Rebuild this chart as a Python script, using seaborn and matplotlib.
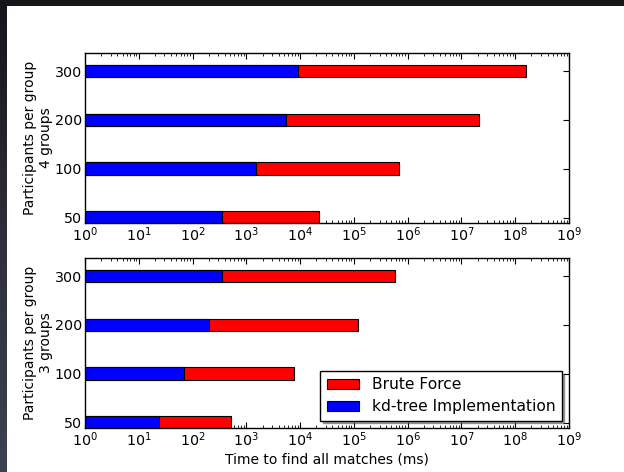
import numpy as np
import pandas as pd
import matplotlib
matplotlib.use("Agg")
import matplotlib.pyplot as plt
import matplotlib.colors as mcolors
from matplotlib.patches import Rectangle, Patch
import seaborn as sns

# ---- data ----
participants = ["300", "200", "100", "50"]
brute_4 = [1.6e8, 2.1e7, 6.9e5, 2.2e4]
kdtree_4 = [9000, 5400, 1500, 355]
brute_3 = [5.9e5, 1.18e5, 7.6e3, 525]
kdtree_3 = [360, 200, 70, 24]
panel_labels = ["Participants per group\n4 groups", "Participants per group\n3 groups"]
xlabel = "Time to find all matches (ms)"
legend_labels = ["Brute Force", "kd-tree Implementation"]

sns.set_theme(style="ticks")
plt.rcParams.update({
    "font.family": ["DejaVu Sans"],
    "xtick.direction": "in", "ytick.direction": "in",
    "xtick.top": True, "ytick.right": True,
    "xtick.major.size": 4, "ytick.major.size": 4,
    "xtick.minor.size": 2, "ytick.minor.size": 2,
    "xtick.major.width": 0.8, "ytick.major.width": 0.8,
    "xtick.minor.width": 0.6,
    "axes.edgecolor": "black", "axes.linewidth": 1.0,
    "xtick.color": "black", "ytick.color": "black",
    "text.color": "black", "axes.labelcolor": "black",
})

fig = plt.figure(figsize=(6.24, 4.72), dpi=100)
fig.patch.set_facecolor("white")

W, H = 624, 472
def fr(x0, y0, x1, y1):
    return [x0 / W, 1 - y1 / H, (x1 - x0) / W, (y1 - y0) / H]

ax1 = fig.add_axes(fr(85, 53, 569, 223))
ax2 = fig.add_axes(fr(85, 258, 569, 428))

FS = 10.3
LFS = 10.0
for ax, brute, kd, lab in [(ax1, brute_4, kdtree_4, panel_labels[0]),
                           (ax2, brute_3, kdtree_3, panel_labels[1])]:
    df = pd.DataFrame({"participants": participants, "brute": brute, "kd": kd})
    sns.barplot(data=df, y="participants", x="brute", order=participants, orient="h",
                color="#ff0000", saturation=1, width=0.26, edgecolor="black",
                linewidth=0.8, ax=ax, errorbar=None)
    sns.barplot(data=df, y="participants", x="kd", order=participants, orient="h",
                color="#0000ff", saturation=1, width=0.26, edgecolor="black",
                linewidth=0.8, ax=ax, errorbar=None)
    ax.set_xscale("log")
    ax.set_xlim(1, 1e9)
    ax.set_ylim(3.11, -0.37)
    ax.set_ylabel(lab, fontsize=LFS, ha="center", multialignment="center",
                  linespacing=1.25, labelpad=1.0)
    ax.set_xlabel("")
    ax.tick_params(axis="both", labelsize=FS, pad=2)
    ax.xaxis.set_minor_locator(matplotlib.ticker.LogLocator(base=10, subs=np.arange(2, 10), numticks=20))
    ax.tick_params(axis="y", which="minor", left=False, right=False)
    for s in ax.spines.values():
        s.set_visible(True)
        s.set_color("black")

ax2.set_xlabel(xlabel, fontsize=LFS, labelpad=2.5)
handles = [Patch(facecolor="#ff0000", edgecolor="black", linewidth=0.8),
           Patch(facecolor="#0000ff", edgecolor="black", linewidth=0.8)]
leg = ax2.legend(handles, legend_labels, loc="lower right",
                 bbox_to_anchor=((561.7 - 85) / 484, (428 - 420.7) / 170),
                 borderaxespad=0, fontsize=11.2, frameon=True, fancybox=False,
                 shadow=True, handlelength=2.05, handleheight=0.7, borderpad=0.4,
                 labelspacing=0.45, handletextpad=0.85)
leg.get_frame().set_edgecolor("black")
leg.get_frame().set_linewidth(1.0)
leg.get_frame().set_alpha(1)

# dark screenshot border
fig.patches.append(Rectangle((0, 1 - 6 / H), 1, 6 / H, transform=fig.transFigure,
                             facecolor="#16161a", edgecolor="none", zorder=10))
axb = fig.add_axes([0, 0, 7 / W, 1 - 6 / H])
cmap = mcolors.LinearSegmentedColormap.from_list("g", ["#16161a", "#2e2f3a", "#3e4152"])
axb.imshow(np.linspace(0, 1, 100).reshape(-1, 1), aspect="auto", cmap=cmap)
axb.set_axis_off()

fig.savefig("out.png", dpi=100, facecolor=fig.get_facecolor())
